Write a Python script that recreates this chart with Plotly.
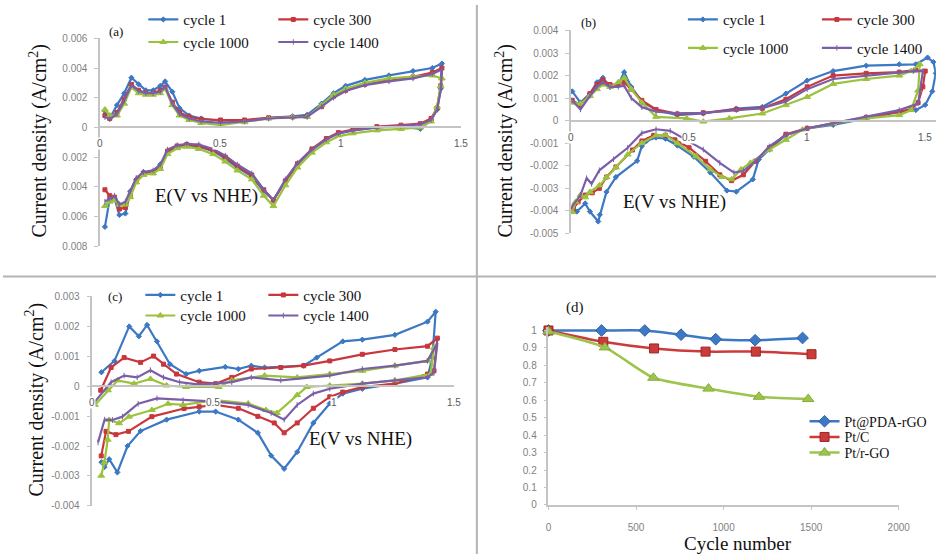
import plotly.graph_objects as go

W, H = 951, 560

# ---------------- panel (a) : CV curves, shared potential grid ----------------
a_E = [0.02, 0.04, 0.07, 0.10, 0.13, 0.16, 0.19, 0.22, 0.25, 0.27, 0.30, 0.33, 0.37, 0.42,
       0.50, 0.60, 0.70, 0.80, 0.86, 0.92, 0.97, 1.02, 1.10, 1.20, 1.30, 1.38, 1.42,
       1.415, 1.40, 1.375, 1.33, 1.25, 1.15, 1.05, 0.99, 0.94, 0.88, 0.82, 0.77, 0.72, 0.68,
       0.63, 0.57, 0.52, 0.47, 0.41, 0.36, 0.32, 0.28, 0.25, 0.22, 0.18, 0.15, 0.125, 0.105,
       0.08, 0.06, 0.04, 0.02]
# current density in mA/cm2
a_cycle1 = [1.1, 0.6, 1.5, 2.3, 3.35, 2.9, 2.5, 2.5, 2.8, 3.1, 2.4, 1.3, 0.8, 0.6, 0.45,
            0.45, 0.65, 0.75, 0.85, 1.6, 2.3, 2.8, 3.2, 3.5, 3.8, 4.0, 4.3,
            2.6, 1.2, 0.5, -0.1, 0.05, 0.0, -0.2, -0.4, -0.8, -1.5, -2.5, -3.6, -4.9, -4.3,
            -3.3, -2.7, -2.1, -1.6, -1.3, -1.2, -1.3, -1.7, -2.5, -3.0, -3.0, -3.5, -4.3, -5.8,
            -5.9, -4.8, -4.8, -6.7]
a_cycle300 = [0.8, 0.6, 1.0, 1.9, 2.9, 2.5, 2.3, 2.3, 2.5, 2.7, 1.7, 1.0, 0.7, 0.55, 0.5,
              0.5, 0.65, 0.7, 0.75, 1.4, 2.1, 2.5, 2.9, 3.2, 3.4, 3.7, 4.0,
              2.8, 1.3, 0.6, 0.25, 0.15, 0.05, -0.15, -0.35, -0.75, -1.45, -2.45, -3.6, -4.9, -4.2,
              -3.2, -2.6, -2.0, -1.55, -1.25, -1.15, -1.25, -1.6, -2.7, -3.0, -3.1, -3.6, -4.6, -5.4,
              -5.5, -4.7, -4.6, -4.2]
a_cycle1000 = [1.2, 0.8, 0.8, 1.6, 2.7, 2.3, 2.2, 2.2, 2.3, 2.6, 1.5, 0.8, 0.5, 0.3, 0.15,
               0.35, 0.6, 0.7, 0.7, 1.5, 2.2, 2.6, 3.0, 3.3, 3.4, 3.5, 3.3,
               2.8, 1.4, 0.4, 0.0, -0.1, -0.2, -0.4, -0.6, -1.0, -1.7, -2.7, -3.9, -5.3, -4.6,
               -3.5, -2.9, -2.3, -1.8, -1.45, -1.3, -1.4, -1.8, -2.8, -3.1, -3.2, -3.7, -4.7, -5.2,
               -5.2, -4.9, -5.0, -5.3]
a_cycle1400 = [0.7, 0.55, 0.9, 1.8, 2.85, 2.45, 2.3, 2.3, 2.4, 2.75, 1.6, 0.9, 0.6, 0.4, 0.3,
               0.4, 0.6, 0.65, 0.7, 1.4, 2.0, 2.45, 2.85, 3.1, 3.3, 3.6, 3.9,
               2.5, 1.2, 0.5, 0.2, 0.1, 0.0, -0.2, -0.4, -0.8, -1.5, -2.4, -3.5, -4.9, -4.2,
               -3.1, -2.5, -1.9, -1.45, -1.15, -1.1, -1.2, -1.5, -2.5, -2.9, -3.0, -3.4, -4.3, -5.0,
               -5.2, -4.6, -4.8, -5.0]

# ---------------- panel (b) ----------------
b_cycle1_E = [0.005, 0.04, 0.08, 0.11, 0.135, 0.165, 0.20, 0.225, 0.255, 0.30, 0.36, 0.45, 0.56,
              0.70, 0.81, 0.91, 1.00, 1.11, 1.25, 1.39, 1.46, 1.51, 1.535, 1.545,
              1.53, 1.50, 1.46, 1.39, 1.25, 1.11, 1.00, 0.91, 0.84, 0.795, 0.77, 0.70, 0.66, 0.59,
              0.52, 0.45, 0.40, 0.36, 0.32, 0.30, 0.28, 0.19, 0.15, 0.122, 0.115, 0.08, 0.06, 0.025]
b_cycle1_j = [1.3, 0.8, 1.2, 1.7, 1.9, 1.5, 1.6, 2.15, 1.5, 0.85, 0.47, 0.25, 0.32,
              0.54, 0.61, 1.2, 1.78, 2.2, 2.44, 2.5, 2.5, 2.8, 2.6, 2.1,
              1.3, 0.7, 0.47, 0.39, 0.1, -0.19, -0.34, -0.63, -1.28, -1.72, -2.6, -3.15, -3.1, -2.3,
              -1.6, -1.1, -0.8, -0.75, -0.9, -1.13, -1.78, -2.5, -3.16, -4.17, -4.47, -4.03, -3.67, -4.03]
b_cycle300_E = [0.005, 0.04, 0.08, 0.11, 0.135, 0.165, 0.20, 0.225, 0.255, 0.30, 0.36, 0.45, 0.56,
                0.70, 0.81, 0.91, 1.00, 1.11, 1.25, 1.39, 1.46, 1.50,
                1.49, 1.47, 1.44, 1.39, 1.25, 1.11, 1.00, 0.91, 0.84, 0.78, 0.73, 0.68, 0.63, 0.57,
                0.50, 0.44, 0.40, 0.35, 0.30, 0.26, 0.19, 0.15, 0.12, 0.09, 0.06, 0.03, 0.01]
b_cycle300_j = [0.9, 0.7, 1.2, 1.6, 1.8, 1.6, 1.6, 1.7, 1.4, 0.9, 0.5, 0.3, 0.35,
                0.5, 0.55, 0.95, 1.5, 2.0, 2.1, 2.15, 2.25, 2.2,
                1.5, 0.8, 0.5, 0.4, 0.15, -0.12, -0.34, -0.6, -1.2, -1.8, -2.4, -2.66, -2.4, -1.8,
                -1.2, -0.85, -0.65, -0.65, -0.9, -1.3, -2.05, -2.5, -3.0, -3.2, -3.3, -3.6, -3.9]
b_cycle1000_E = [0.005, 0.04, 0.08, 0.11, 0.135, 0.165, 0.20, 0.225, 0.255, 0.30, 0.36, 0.49, 0.56,
                 0.67, 0.81, 0.91, 1.00, 1.11, 1.25, 1.39, 1.44, 1.477,
                 1.47, 1.44, 1.39, 1.25, 1.11, 0.98, 0.91, 0.84, 0.76, 0.72, 0.68, 0.64, 0.59, 0.53,
                 0.45, 0.40, 0.36, 0.30, 0.24, 0.19, 0.15, 0.12, 0.08, 0.06, 0.04, 0.02, 0.005]
b_cycle1000_j = [0.8, 0.75, 1.1, 1.4, 1.6, 1.5, 1.7, 1.9, 1.4, 0.8, 0.17, 0.1, -0.04,
                 0.1, 0.32, 0.69, 1.05, 1.63, 1.85, 2.0, 2.2, 2.5,
                 1.34, 0.47, 0.25, 0.1, -0.12, -0.4, -0.85, -1.28, -1.87, -2.16, -2.6, -2.5, -2.16, -1.58,
                 -1.0, -0.63, -0.65, -0.99, -1.5, -2.07, -2.5, -2.87, -3.16, -3.4, -3.3, -3.6, -4.05]
b_cycle1400_E = [0.005, 0.04, 0.08, 0.11, 0.135, 0.165, 0.20, 0.225, 0.255, 0.30, 0.36, 0.45, 0.56,
                 0.70, 0.81, 0.91, 1.00, 1.11, 1.25, 1.39, 1.45, 1.49,
                 1.48, 1.47, 1.39, 1.25, 1.11, 1.00, 0.91, 0.84, 0.78, 0.73, 0.69, 0.63, 0.56, 0.49,
                 0.42, 0.36, 0.30, 0.24, 0.18, 0.12, 0.087, 0.066, 0.04, 0.005]
b_cycle1400_j = [0.9, 0.5, 1.1, 1.5, 1.7, 1.5, 1.5, 1.55, 1.0, 0.6, 0.4, 0.32, 0.35,
                 0.47, 0.55, 0.85, 1.4, 1.85, 2.0, 2.15, 2.2, 2.2,
                 1.5, 0.76, 0.47, 0.17, -0.12, -0.34, -0.63, -1.14, -1.8, -2.23, -2.3, -1.87, -1.28, -0.85,
                 -0.45, -0.38, -0.55, -1.2, -1.71, -2.2, -2.8, -2.55, -3.3, -3.8]

# ---------------- panel (c) ----------------
c_cycle1_E = [0.038, 0.092, 0.153, 0.193, 0.227, 0.268, 0.322, 0.389, 0.443, 0.551, 0.605, 0.659,
              0.714, 0.876, 0.93, 1.038, 1.119, 1.254, 1.389, 1.423,
              1.409, 1.389, 1.254, 1.119, 1.038, 0.984, 0.916, 0.849, 0.795, 0.741, 0.686, 0.605,
              0.511, 0.443, 0.308, 0.2, 0.146, 0.104, 0.07, 0.051, 0.038]
c_cycle1_j = [0.46, 0.84, 1.99, 1.66, 2.04, 1.49, 0.73, 0.40, 0.51, 0.64, 0.57, 0.68,
              0.62, 0.68, 0.95, 1.49, 1.55, 1.71, 2.15, 2.48,
              0.95, 0.29, 0.08, -0.09, -0.25, -0.58, -1.23, -2.2, -2.76, -2.32, -1.56, -1.12,
              -0.85, -0.85, -1.12, -1.5, -2.0, -2.88, -2.44, -2.7, -2.54]
c_cycle300_E = [0.035, 0.078, 0.132, 0.2, 0.254, 0.295, 0.349, 0.443, 0.511, 0.578, 0.659, 0.781,
                0.876, 0.984, 1.119, 1.254, 1.389, 1.43,
                1.416, 1.389, 1.254, 1.119, 1.038, 0.984, 0.916, 0.849, 0.795, 0.754, 0.686, 0.605,
                0.511, 0.443, 0.38, 0.247, 0.15, 0.098, 0.057, 0.037]
c_cycle300_j = [-0.14, 0.62, 0.95, 0.79, 1.0, 0.73, 0.4, 0.13, 0.08, 0.29, 0.57, 0.62,
                0.68, 0.84, 1.06, 1.22, 1.33, 1.6,
                0.51, 0.4, 0.08, -0.03, -0.2, -0.36, -0.74, -1.23, -1.56, -1.23, -1.01, -0.74,
                -0.63, -0.69, -0.75, -1.02, -1.51, -1.62, -1.51, -2.33]
c_cycle1000_E = [0.011, 0.065, 0.105, 0.173, 0.241, 0.308, 0.389, 0.524, 0.578, 0.714, 0.849, 0.984,
                 1.119, 1.254, 1.389, 1.416,
                 1.402, 1.254, 1.119, 0.984, 0.889, 0.849, 0.765, 0.72, 0.646, 0.511, 0.376, 0.314,
                 0.247, 0.152, 0.111, 0.07, 0.064, 0.05, 0.037]
c_cycle1000_j = [-0.63, -0.14, 0.19, 0.08, 0.24, 0.02, -0.03, -0.03, 0.19, 0.35, 0.29, 0.4,
                 0.51, 0.68, 0.84, 1.28,
                 0.4, 0.19, 0.08, 0.02, -0.03, -0.3, -0.9, -0.8, -0.58, -0.47, -0.63, -0.59,
                 -0.8, -1.02, -1.24, -1.13, -1.79, -2.55, -2.99]
c_cycle1400_E = [0.011, 0.078, 0.132, 0.186, 0.241, 0.295, 0.362, 0.443, 0.578, 0.659, 0.781, 0.984,
                 1.119, 1.254, 1.389, 1.43,
                 1.416, 1.389, 1.254, 1.119, 0.984, 0.916, 0.849, 0.795, 0.741, 0.646, 0.511, 0.376,
                 0.268, 0.19, 0.125, 0.084, 0.051, 0.024]
c_cycle1400_j = [-0.52, 0.13, 0.35, 0.29, 0.53, 0.29, 0.13, 0.05, 0.13, 0.29, 0.19, 0.35,
                 0.57, 0.68, 0.84, 1.44,
                 0.46, 0.29, 0.19, 0.08, -0.09, -0.25, -0.63, -1.12, -0.9, -0.63, -0.52, -0.47,
                 -0.41, -0.59, -1.02, -1.13, -1.12, -1.88]

# ---------------- panel (d) : retention vs cycle number ----------------
d_pda_cycles = [0, 303, 550, 757, 955, 1180, 1451]
d_pda = [1.0, 1.0, 1.0, 0.976, 0.95, 0.944, 0.957]
d_ptc_cycles = [0, 313, 603, 897, 1184, 1502]
d_ptc = [1.0, 0.935, 0.897, 0.879, 0.879, 0.864]
d_rgo_cycles = [0, 322, 599, 914, 1202, 1483]
d_rgo = [0.994, 0.903, 0.729, 0.667, 0.62, 0.607]

cycle_names = ['cycle 1', 'cycle 300', 'cycle 1000', 'cycle 1400']
cv_x_ticks = [0, 0.5, 1, 1.5]
cv_x_text = ['0', '0.5', '1', '1.5']
a_y_ticks = [0.006, 0.004, 0.002, 0, -0.002, -0.004, -0.006, -0.008]
a_y_text = ['0.006', '0.004', '0.002', '0', '0.002', '0.004', '0.006', '0.008']
b_y_ticks = [0.004, 0.003, 0.002, 0.001, 0, -0.001, -0.002, -0.003, -0.004, -0.005]
b_y_text = ['0.004', '0.003', '0.002', '0.001', '0', '-0.001', '-0.002', '-0.003', '-0.004', '-0.005']
c_y_ticks = [0.003, 0.002, 0.001, 0, -0.001, -0.002, -0.003, -0.004]
c_y_text = ['0.003', '0.002', '0.001', '0', '-0.001', '-0.002', '-0.003', '-0.004']
d_y_ticks = [0, 0.1, 0.2, 0.3, 0.4, 0.5, 0.6, 0.7, 0.8, 0.9, 1]
d_x_ticks = [0, 500, 1000, 1500, 2000]

# ---------------- styling ----------------
SERIF = 'Liberation Serif, Times New Roman, serif'
SANS = 'Liberation Sans, Arial, sans-serif'
BLUE, RED, GREEN, PURPLE = '#3C78C3', '#C8373C', '#9BC23C', '#7A5FA8'
styles = {
    'cycle 1': dict(color=BLUE, symbol='diamond', size=4),
    'cycle 300': dict(color=RED, symbol='square', size=4),
    'cycle 1000': dict(color=GREEN, symbol='triangle-up', size=6),
    'cycle 1400': dict(color=PURPLE, symbol='line-ns', size=4),
}
AXC = '#C4C4C4'
TICKFONT = dict(family=SANS, size=10, color='#7F7F7F')
XTICKFONT = dict(family=SANS, size=10, color='#5A5A5A')


def xdom(p0, v0, p1, v1, lo, hi):
    s = (p1 - p0) / (v1 - v0)
    return [max(0, (p0 + (lo - v0) * s) / W), min(1, (p0 + (hi - v0) * s) / W)]


def ypix(p0, v0, p1, v1, v):
    s = (p1 - p0) / (v1 - v0)
    return p0 + (v - v0) * s


def ydom(p0, v0, p1, v1, lo, hi):
    return [max(0, 1 - ypix(p0, v0, p1, v1, lo) / H), min(1, 1 - ypix(p0, v0, p1, v1, hi) / H)]


fig = go.Figure()


def add_cv(n, Es, js, legends):
    for name, E, j in zip(cycle_names, Es, js):
        st = styles[name]
        lg = legends[0] if name in ('cycle 1', 'cycle 300') else legends[1]
        fig.add_trace(go.Scatter(
            x=E, y=[v / 1000 for v in j], mode='lines+markers', name=name,
            xaxis='x' + ('' if n == 1 else str(n)), yaxis='y' + ('' if n == 1 else str(n)),
            legend=lg,
            line=dict(color=st['color'], width=2.2),
            marker=dict(symbol=st['symbol'], size=st['size'], color=st['color'],
                        line=dict(color=st['color'], width=1)),
        ))


add_cv(1, [a_E] * 4, [a_cycle1, a_cycle300, a_cycle1000, a_cycle1400], ['legend', 'legend2'])
add_cv(2, [b_cycle1_E, b_cycle300_E, b_cycle1000_E, b_cycle1400_E],
       [b_cycle1_j, b_cycle300_j, b_cycle1000_j, b_cycle1400_j], ['legend3', 'legend4'])
add_cv(3, [c_cycle1_E, c_cycle300_E, c_cycle1000_E, c_cycle1400_E],
       [c_cycle1_j, c_cycle300_j, c_cycle1000_j, c_cycle1400_j], ['legend5', 'legend6'])

d_specs = [
    ('Pt@PDA-rGO', d_pda_cycles, d_pda, BLUE, 'diamond', 9, '#2E62A8', 'legend7'),
    ('Pt/C', d_ptc_cycles, d_ptc, '#CC3B3B', 'square', 9, '#9E2626', 'legend8'),
    ('Pt/r-GO', d_rgo_cycles, d_rgo, '#9DC44D', 'triangle-up', 10, '#86AD3A', 'legend9'),
]
for name, xs, ys, col, sym, sz, edge, lg in d_specs:
    fig.add_trace(go.Scatter(
        x=xs, y=ys, mode='lines+markers', name=name, xaxis='x4', yaxis='y4', legend=lg,
        line=dict(color=col, width=2.5, shape='spline', smoothing=0.6),
        marker=dict(symbol=sym, size=sz, color=col, line=dict(color=edge, width=1)),
        cliponaxis=False,
    ))

layout = dict(width=W, height=H, margin=dict(l=0, r=0, t=0, b=0),
              paper_bgcolor='white', plot_bgcolor='white', showlegend=True)


def cv_axes(n, xp, yp, xr, yr, yt, ytt):
    suf = '' if n == 1 else str(n)
    zero_y = 1 - ypix(yp[0], yp[1], yp[2], yp[3], 0) / H
    layout['xaxis' + suf] = dict(
        domain=xdom(xp[0], xp[1], xp[2], xp[3], xr[0], xr[1]), range=xr,
        anchor='free', position=zero_y, showline=True, linecolor=AXC, linewidth=1.5,
        tickvals=cv_x_ticks, ticks='', showticklabels=False, showgrid=False, zeroline=False)
    layout['yaxis' + suf] = dict(
        domain=ydom(yp[0], yp[1], yp[2], yp[3], yr[0], yr[1]), range=yr,
        anchor='x' + suf, showline=True, linecolor=AXC, linewidth=1.5,
        tickvals=yt, ticktext=ytt, ticks='outside', ticklen=4, tickcolor=AXC,
        showgrid=False, zeroline=False, tickfont=TICKFONT, ticklabelstandoff=5,
        layer='below traces')


cv_axes(1, (99, 0, 467, 1.5), (34, 0.006, 246, -0.008), [0, 1.5], [-0.008, 0.006], a_y_ticks, a_y_text)
cv_axes(2, (579, 0, 940, 1.5), (26, 0.004, 233, -0.005), [0, 1.545], [-0.005, 0.004], b_y_ticks, b_y_text)
cv_axes(3, (91, 0, 460, 1.5), (297, 0.003, 511, -0.004), [0, 1.5], [-0.004, 0.003], c_y_ticks, c_y_text)

layout['xaxis4'] = dict(domain=xdom(556, 0, 913, 2000, 0, 2000), range=[0, 2000], anchor='y4',
                        showline=True, linecolor=AXC, linewidth=1.5, tickvals=d_x_ticks,
                        ticks='outside', ticklen=3, tickcolor=AXC, showgrid=False, zeroline=False,
                        tickfont=TICKFONT, ticklabelstandoff=9)
layout['yaxis4'] = dict(domain=ydom(332, 1.0, 510, 0, 0, 1.02), range=[0, 1.02], anchor='x4',
                        showline=True, linecolor=AXC, linewidth=1.5, tickvals=d_y_ticks,
                        ticks='outside', ticklen=3, tickcolor=AXC, showgrid=False, zeroline=False,
                        tickfont=TICKFONT, ticklabelstandoff=5)


def leg(x_px, y_px, ew, size=15):
    return dict(x=(x_px - 5) / W, y=1 - y_px / H, xanchor='left', yanchor='middle',
                orientation='h', entrywidth=ew, entrywidthmode='pixels',
                bgcolor='rgba(0,0,0,0)', font=dict(family=SERIF, size=size, color='#111'),
                tracegroupgap=0)


layout['legend'] = leg(148, 15, 85)
layout['legend2'] = leg(148, 38, 85)
layout['legend3'] = leg(698, 15, 89)
layout['legend4'] = leg(698, 44, 89)
layout['legend5'] = leg(145, 296, 78)
layout['legend6'] = leg(145, 317, 78)
layout['legend7'] = leg(822, 425, 0, 14)
layout['legend8'] = leg(822, 441, 0, 14)
layout['legend9'] = leg(822, 457, 0, 14)

fig.update_layout(**layout)

# x tick labels of the CV panels, placed just under the axis line that crosses at j = 0
for suf in ['', '2', '3']:
    for t, txt in zip(cv_x_ticks, cv_x_text):
        fig.add_annotation(text=txt, x=t, y=0, xref='x' + suf, yref='y' + suf,
                           showarrow=False, yanchor='top', yshift=-10, font=XTICKFONT,
                           bgcolor='white', borderpad=0)


def note(text, x_px, y_px, size, angle=0, xanchor='center'):
    fig.add_annotation(text=text, x=x_px / W, y=1 - y_px / H, xref='paper', yref='paper',
                       showarrow=False, textangle=angle, xanchor=xanchor, yanchor='middle',
                       font=dict(family=SERIF, size=size, color='#111'))


ytitle = 'Current density (A/cm<sup>2</sup>)'
note(ytitle, 36, 138, 20, -90)
note(ytitle, 511, 138, 20, -90)
note(ytitle, 32, 402, 20, -90)
note('E(V vs NHE)', 207, 195, 19)
note('E(V vs NHE)', 684, 201, 19)
note('E(V vs NHE)', 364, 443, 19)
note('Cycle number', 749, 549, 19)
note('(a)', 115, 27, 13)
note('(b)', 597, 18, 13)
note('(c)', 114, 297, 13)
note('(d)', 583, 309, 15)

# panel dividers
fig.add_shape(type='line', xref='paper', yref='paper', x0=483 / W, x1=483 / W, y0=0, y1=1,
              line=dict(color='#B4B4B4', width=2))
fig.add_shape(type='line', xref='paper', yref='paper', x0=0, x1=1, y0=1 - 277 / H, y1=1 - 277 / H,
              line=dict(color='#B4B4B4', width=2))

fig.write_html('out.html')
